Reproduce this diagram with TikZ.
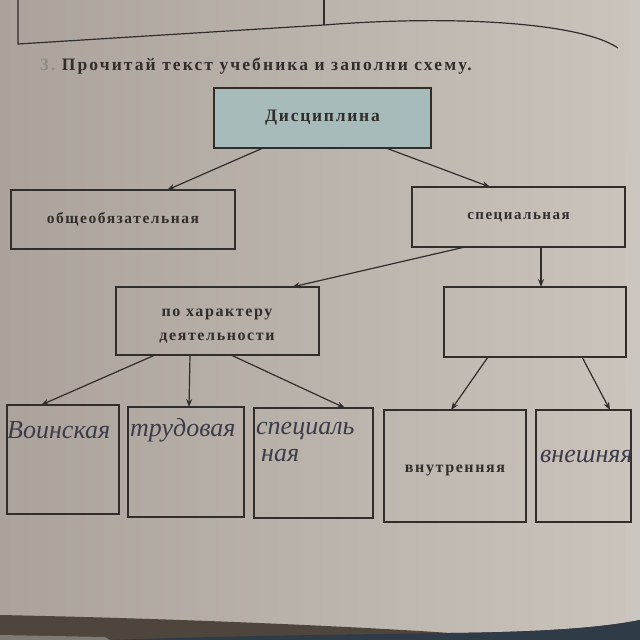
\documentclass[tikz,border=0pt]{standalone}
\usepackage{fontspec}
\setmainfont{Liberation Serif}
\newfontfamily\printfont[LetterSpace=10]{Liberation Serif}
\newfontfamily\titlefont[LetterSpace=12]{Liberation Serif}
\newfontfamily\handfont{Liberation Serif}
\usetikzlibrary{arrows.meta}
\definecolor{paperL}{HTML}{CAC4BD}
\definecolor{paperD}{HTML}{ABA39B}
\definecolor{ink}{HTML}{302D2B}
\definecolor{pencil}{HTML}{3C3B47}
\definecolor{discfill}{HTML}{A6BBBA}
\definecolor{table}{HTML}{2F3B47}
\definecolor{brownband}{HTML}{4E463D}
\begin{document}
\begin{tikzpicture}[x=1pt,y=-1pt,
  box/.style={draw=ink, line width=1.3pt, anchor=north west, inner sep=0pt, outer sep=0pt, align=center, font=\printfont\bfseries\fontsize{16}{24}\selectfont, text=ink},
  lbl/.style={inner sep=0pt, text=ink, font=\printfont\bfseries\fontsize{16}{24}\selectfont, align=center},
  arr/.style={draw=ink, line width=1.2pt, -{Stealth[length=8pt,width=6pt]}},
  hand/.style={text=pencil, font=\handfont\itshape\fontsize{26}{28}\selectfont, inner sep=0pt, anchor=west}]
\useasboundingbox (0,0) rectangle (640,640);
\shade[left color=paperD, right color=paperL] (0,0) rectangle (640,640);
% page edge strip at right
\fill[paperL!90!white, opacity=0.35] (624,0) -- (640,0) -- (640,620) -- (626,620) -- cycle;
% table below page edge
\fill[brownband] (0,615) .. controls (200,619) and (380,628) .. (450,633) .. controls (540,632) and (600,628) .. (640,620) -- (640,640) -- (0,640) -- cycle;
\fill[table] (110,640) .. controls (250,635) and (400,634) .. (450,633) .. controls (540,632) and (600,628) .. (640,620) -- (640,640) -- cycle;
\fill[paperD!75!black] (0,635) -- (105,637) -- (110,640) -- (0,640) -- cycle;
% previous exercise box
\draw[ink, line width=1.2pt] (18,0) -- (18,44) -- (324,25) .. controls (450,15) and (580,22) .. (618,48);
\draw[ink, line width=1.2pt] (324,0) -- (324,25);
% title
\node[anchor=west, inner sep=0pt, text=ink, font=\titlefont\bfseries\fontsize{17.5}{19}\selectfont] (title) at (40,66) {\textcolor{ink!55}{3.}~Прочитай текст учебника и заполни схему.};
% boxes
\node[box, fill=discfill, minimum width=217pt, minimum height=60pt, font=\printfont\bfseries\fontsize{17.5}{20}\selectfont] (disc) at (214,88) {Дисциплина};
\node[box, minimum width=224pt, minimum height=59pt, font=\printfont\bfseries\fontsize{15.5}{20}\selectfont] (obsh) at (11,190) {общеобязательная};
\node[box, minimum width=213pt, minimum height=60pt, font=\printfont\bfseries\fontsize{15}{20}\selectfont] (spec) at (412,187) {специальная};
\node[box, minimum width=203pt, minimum height=68pt] (char) at (116,287) {};
\node[lbl] (chart) at (217,326) {по характеру\\деятельности};
\node[box, minimum width=182pt, minimum height=70pt] (empty) at (444,287) {};
\node[box, minimum width=112pt, minimum height=109pt] (b1) at (7,405) {};
\node[box, minimum width=116pt, minimum height=110pt] (b2) at (128,407) {};
\node[box, minimum width=119pt, minimum height=110pt] (b3) at (254,408) {};
\node[box, minimum width=142pt, minimum height=112pt] (b4) at (384,410) {};
\node[lbl] (b4t) at (455,470) {внутренняя};
\node[box, minimum width=95pt, minimum height=112pt] (b5) at (536,410) {};
% handwriting
\node[hand] (h1) at (7,430) {Воинская};
\node[hand] (h2) at (130,430) {трудовая};
\node[hand] (h3) at (256,431) {специаль};
\node[hand] (h3b) at (261,456) {ная};
\node[hand] (h5) at (540,457) {внешняя};
% arrows
\draw[arr] ([xshift=49pt]disc.south west) -- ([xshift=156pt]obsh.north west);
\draw[arr] ([xshift=172pt]disc.south west) -- ([xshift=78pt]spec.north west);
\draw[arr] ([xshift=53pt]spec.south west) -- ([xshift=176pt]char.north west);
\draw[arr] ([xshift=129pt]spec.south west) -- ([xshift=97pt]empty.north west);
\draw[arr] ([xshift=39pt]char.south west) -- ([xshift=34pt]b1.north west);
\draw[arr] ([xshift=74pt]char.south west) -- ([xshift=61pt]b2.north west);
\draw[arr] ([xshift=115pt]char.south west) -- ([xshift=91pt]b3.north west);
\draw[arr] ([xshift=44pt]empty.south west) -- ([xshift=67pt]b4.north west);
\draw[arr] ([xshift=138pt]empty.south west) -- ([xshift=74pt]b5.north west);
\end{tikzpicture}
\end{document}
